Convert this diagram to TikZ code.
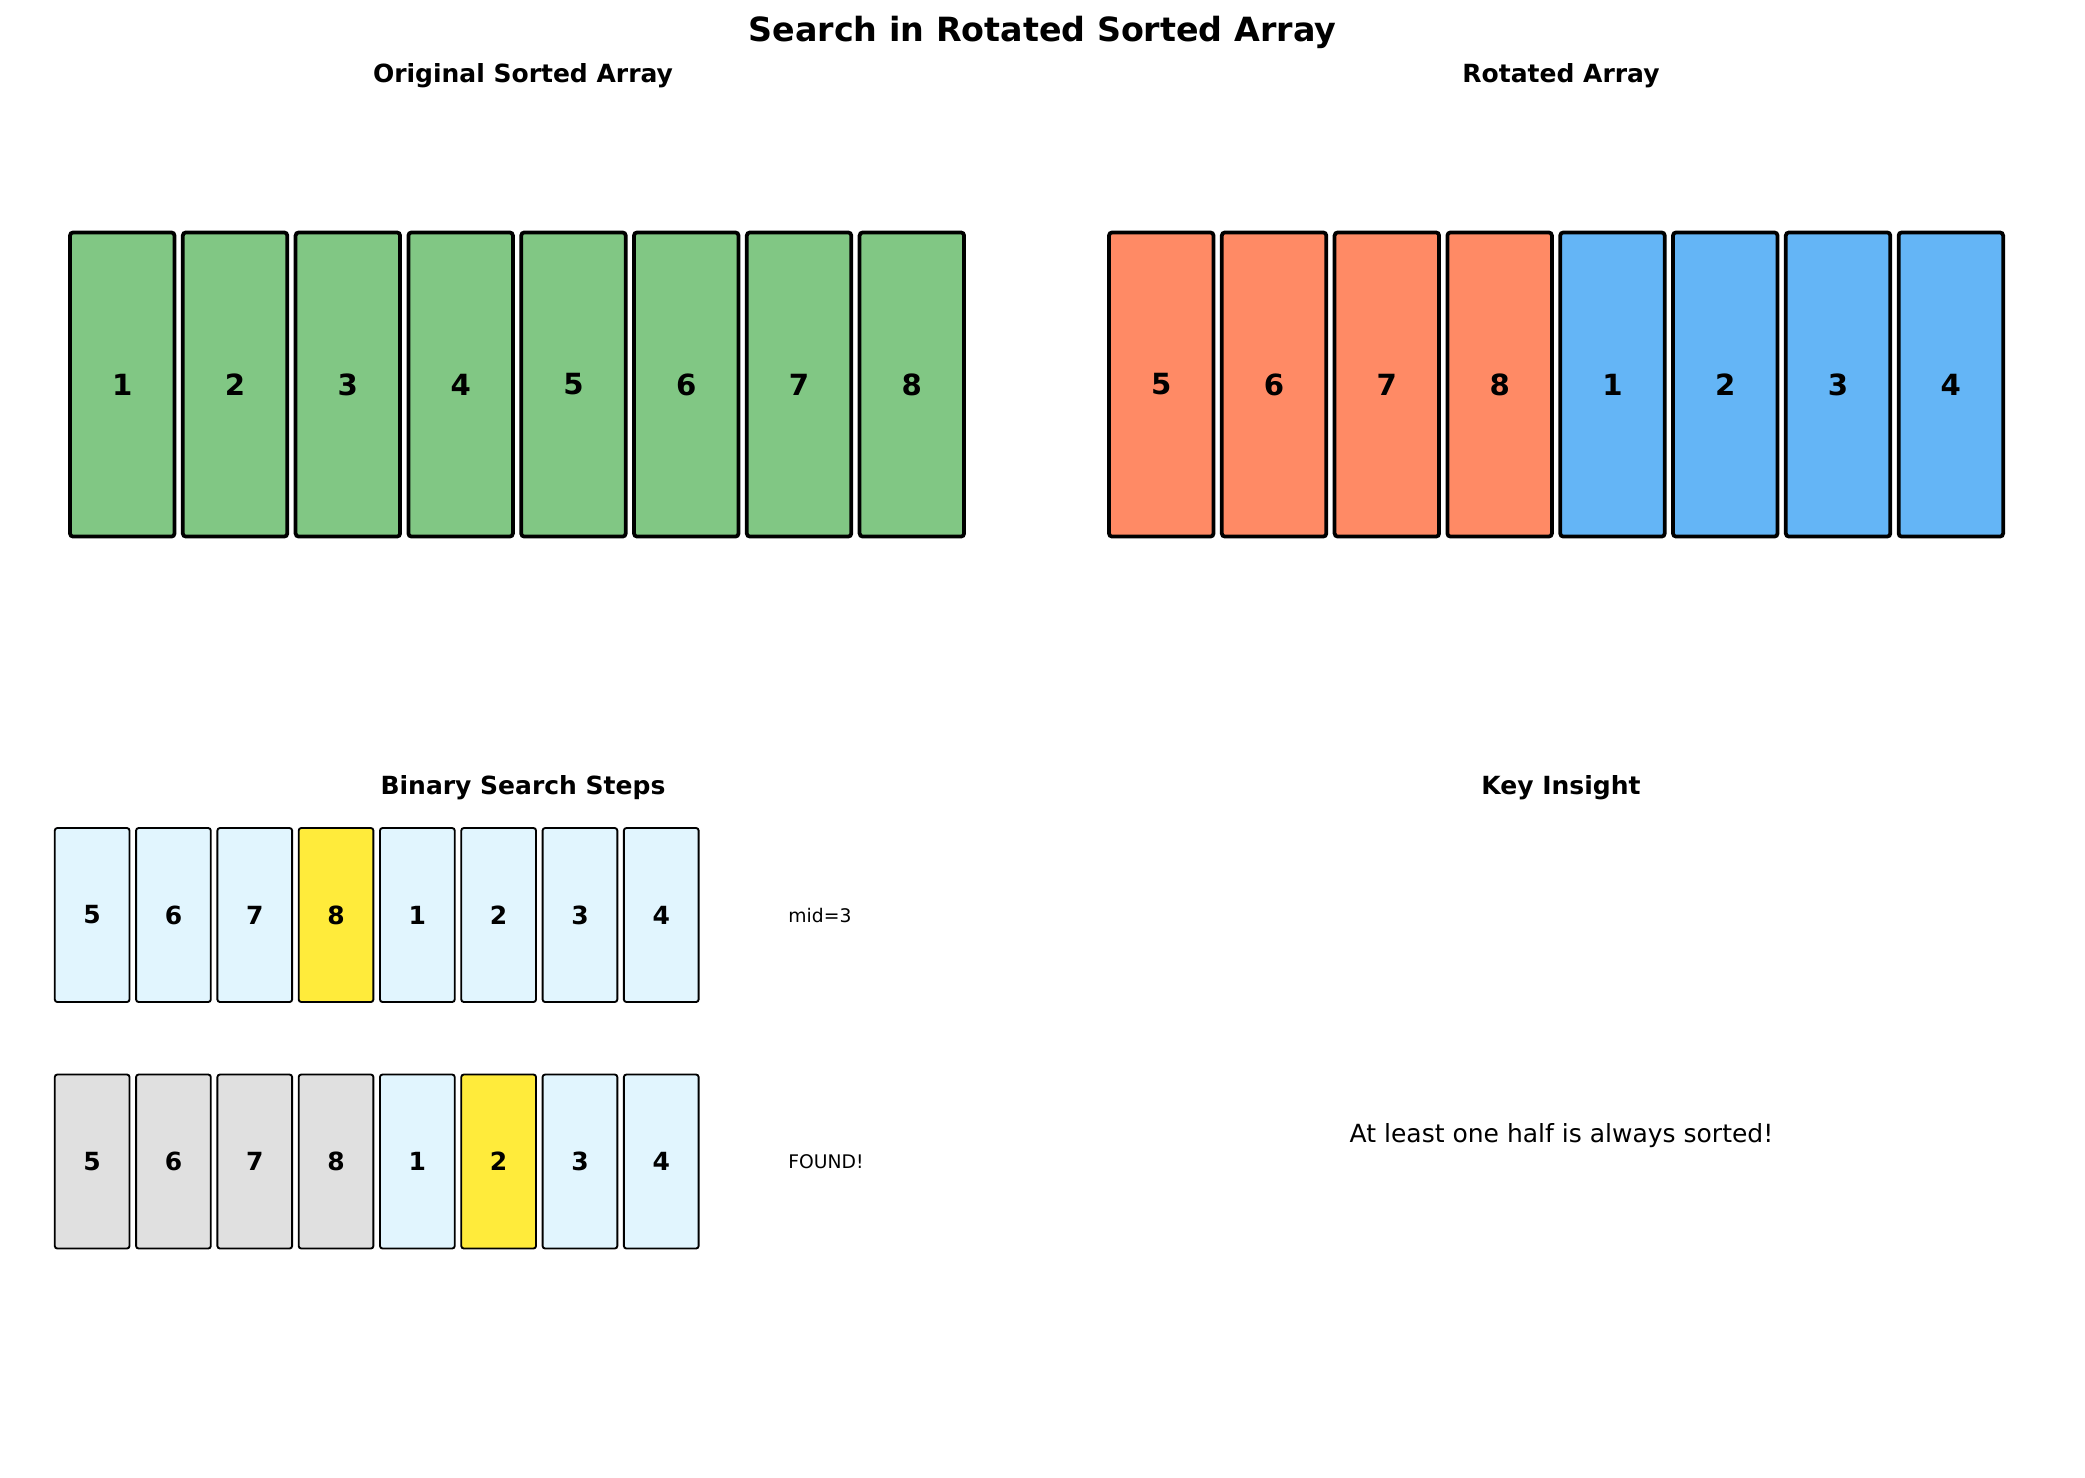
\documentclass[tikz,border=0pt]{standalone}
\usepackage{fontspec}
\setmainfont{DejaVu Sans}
\definecolor{cgreen}{HTML}{81C784}
\definecolor{corange}{HTML}{FF8A65}
\definecolor{cblue}{HTML}{64B5F6}
\definecolor{clight}{HTML}{E1F5FE}
\definecolor{cyellow}{HTML}{FFEB3B}
\definecolor{cgray}{HTML}{E0E0E0}
\tikzset{
  bigbox/.style={draw=black, line width=1.8pt, rounded corners=1.5pt, minimum width=50.16pt, minimum height=146pt, inner sep=0pt, font=\fontsize{14}{16}\selectfont\bfseries},
  smallbox/.style={draw=black, line width=0.9pt, rounded corners=1.2pt, minimum width=35.86pt, minimum height=83.5pt, inner sep=0pt, font=\fontsize{12}{14}\selectfont\bfseries},
  maintitle/.style={font=\fontsize{16}{19}\selectfont\bfseries, inner sep=0pt},
  subtitle/.style={font=\fontsize{12}{14}\selectfont\bfseries, inner sep=0pt},
  note/.style={font=\fontsize{9}{11}\selectfont, inner sep=0pt, anchor=west},
  insight/.style={font=\fontsize{12}{14}\selectfont, inner sep=0pt}
}
\begin{document}
\begin{tikzpicture}[x=0.48pt, y=-0.48pt]
\useasboundingbox (0,0) rectangle (2085,1477);
\fill[white] (0,0) rectangle (2085,1477);
\node[maintitle] (title) at (1042.5,32) {Search in Rotated Sorted Array};
\node[subtitle] (t1) at (523,76) {Original Sorted Array};
\node[subtitle] (t2) at (1561,76) {Rotated Array};
\node[subtitle] (t3) at (523,787.5) {Binary Search Steps};
\node[subtitle] (t4) at (1561,787.5) {Key Insight};
% original
\foreach \v [count=\i from 0] in {1,2,3,4,5,6,7,8}
  \node[bigbox, fill=cgreen] (o\i) at ({122.25+112.8*\i},384.5) {\v};
% rotated
\foreach \v/\c [count=\i from 0] in {5/corange,6/corange,7/corange,8/corange,1/cblue,2/cblue,3/cblue,4/cblue}
  \node[bigbox, fill=\c] (r\i) at ({1161.25+112.8*\i},384.5) {\v};
% steps
\foreach \v/\c [count=\i from 0] in {5/clight,6/clight,7/clight,8/cyellow,1/clight,2/clight,3/clight,4/clight}
  \node[smallbox, fill=\c] (a\i) at ({92.15+81.3*\i},915) {\v};
\foreach \v/\c [count=\i from 0] in {5/cgray,6/cgray,7/cgray,8/cgray,1/clight,2/cyellow,3/clight,4/clight}
  \node[smallbox, fill=\c] (b\i) at ({92.15+81.3*\i},1161.5) {\v};
\node[note] (n1) at (788,915) {mid=3};
\node[note] (n2) at (788,1161.5) {FOUND!};
\node[insight] (ins) at (1561.5,1136) {At least one half is always sorted!};
\end{tikzpicture}
\end{document}
